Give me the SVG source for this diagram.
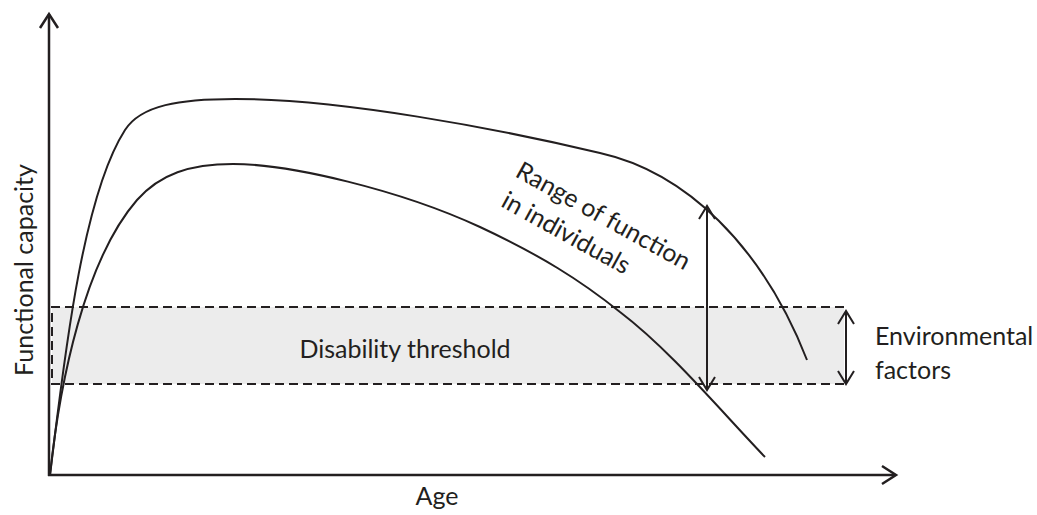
<svg xmlns="http://www.w3.org/2000/svg" width="1037" height="515" viewBox="0 0 1037 515">
<style>
.ax{fill:none;stroke:#231f20;stroke-width:2.5}
.cv{fill:none;stroke:#231f20;stroke-width:2}
.ar{fill:none;stroke:#231f20;stroke-width:2;stroke-linejoin:miter}
.ds{fill:none;stroke:#231f20;stroke-width:2;stroke-dasharray:9,5}
text{font-family:Lato,"Open Sans","Liberation Sans",sans-serif;font-size:25px;fill:#231f20}
</style>
<rect x="52" y="307" width="792" height="77" fill="#ececec"/>
<g id="threshold">
<path class="ds" d="M844,307 H52 V384 H844"/>
<text x="405" y="358" text-anchor="middle">Disability threshold</text>
</g>
<g id="axes">
<path class="ax" d="M49,476 V14"/>
<path class="ax" d="M40,28 L49,14 L58,28"/>
<path class="ax" d="M48,475 H895"/>
<path class="ax" d="M882,466 L896,475 L882,484"/>
<text transform="translate(33,270) rotate(-90)" text-anchor="middle">Functional capacity</text>
<text x="437" y="505" text-anchor="middle">Age</text>
</g>
<g id="curves">
<path class="cv" d="M50,475 C62,380 80,200 125,130 C141,105 180,99 235,99 C340,99 495,128 600,153 C685,172 762,245 807,360"/>
<path class="cv" d="M50,475 C60,380 85,260 137,200 C160,174 190,164 233,164 C290,164 400,190 480,227 C540,255 580,280 620,312 C670,350 720,410 765,457"/>
</g>
<g id="connectors">
<path class="ar" d="M707,206 V390"/>
<path class="ar" d="M699,219 L707,206 L715,219"/>
<path class="ar" d="M699,377 L707,390 L715,377"/>
<path class="ar" d="M846,311 V384"/>
<path class="ar" d="M838,324 L846,311 L854,324"/>
<path class="ar" d="M838,371 L846,384 L854,371"/>
</g>
<g id="range-label">
<text transform="translate(514,176) rotate(29)"><tspan x="0" y="0">Range of function</tspan><tspan x="2" y="33">in individuals</tspan></text>
</g>
<g id="env-label">
<text x="875" y="345">Environmental</text>
<text x="875" y="379">factors</text>
</g>
</svg>
